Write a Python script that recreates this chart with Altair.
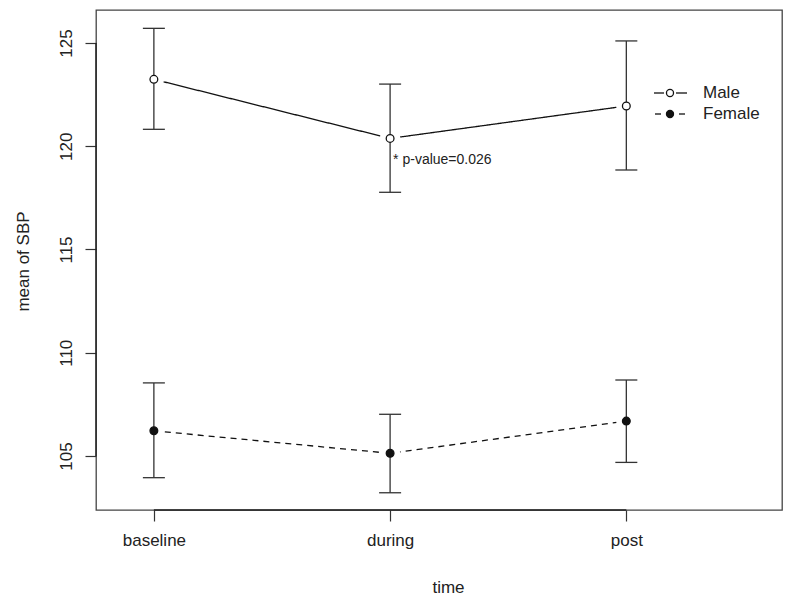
import json
import altair as alt
import pandas as pd

# ---- data ----
times = ["baseline", "during", "post"]
male_mean = [123.24, 120.38, 121.95]
male_lo = [120.82, 117.77, 118.85]
male_hi = [125.71, 123.01, 125.10]
female_mean = [106.22, 105.13, 106.69]
female_lo = [103.95, 103.22, 104.69]
female_hi = [108.54, 107.02, 108.68]
sexes = ["Male", "Female"]
y_ticks = [105, 110, 115, 120, 125]
annot_text = "* p-value=0.026"
annot_y = 119.35

rows = []
for sex, m, lo, hi in [("Male", male_mean, male_lo, male_hi),
                       ("Female", female_mean, female_lo, female_hi)]:
    for i, t in enumerate(times):
        rows.append({"sex": sex, "time": t, "idx": i + 1,
                     "mean": m[i], "lo": lo[i], "hi": hi[i]})
df = pd.DataFrame(rows)

FONT = "Liberation Sans"
INK = "#111111"
W, H = 686, 500

xscale = alt.Scale(domain=[0.755, 3.659], nice=False, zero=False)
yscale = alt.Scale(domain=[102.385, 126.598], nice=False, zero=False)

label_expr = f"{json.dumps(times)}[datum.value - 1]"

xaxis = alt.Axis(values=[1, 2, 3], labelExpr=label_expr, title="time",
                 grid=False, domain=False, tickSize=11, tickColor="#333",
                 tickWidth=1.2, labelFont=FONT, labelFontSize=17,
                 labelColor="#222", labelPadding=11, titleFont=FONT,
                 titleFontSize=17, titleFontWeight="normal", titleColor="#222",
                 titleX=352, titleY=77, titleBaseline="middle",
                 titleAlign="center")
yaxis = alt.Axis(values=y_ticks, title="mean of SBP", grid=False, domain=False,
                 tickSize=11, tickColor="#333", tickWidth=1.2, labelFont=FONT,
                 labelFontSize=17, labelColor="#222", labelAngle=270,
                 labelAlign="center", labelBaseline="bottom", labelPadding=10,
                 titleFont=FONT, titleFontSize=17, titleFontWeight="normal",
                 titleColor="#222", titleAngle=270, titleX=-73, titleY=251,
                 titleBaseline="middle", titleAlign="center")

base = alt.Chart(df)
X = alt.X("idx:Q", scale=xscale, axis=xaxis)
Y = alt.Y("mean:Q", scale=yscale, axis=yaxis)

lines = base.mark_line(color=INK, strokeWidth=1.3).encode(
    x=X, y=Y, detail="sex:N",
    strokeDash=alt.StrokeDash("sex:N", scale=alt.Scale(domain=sexes, range=[[1, 0], [6, 5]]),
                              legend=None))

knock = base.mark_point(shape="circle", filled=True, color="white", size=420,
                        opacity=1).encode(x="idx:Q", y="mean:Q")

bars = base.mark_rule(color="#333", strokeWidth=1.3).encode(
    x="idx:Q", y="lo:Q", y2="hi:Q")
cap_lo = base.mark_tick(orient="horizontal", size=22, thickness=1.3,
                        color="#333", opacity=1).encode(x="idx:Q", y="lo:Q")
cap_hi = base.mark_tick(orient="horizontal", size=22, thickness=1.3,
                        color="#333", opacity=1).encode(x="idx:Q", y="hi:Q")

pts = base.mark_point(shape="circle", filled=True, stroke=INK, strokeWidth=1.3,
                      size=60, opacity=1).encode(
    x="idx:Q", y="mean:Q",
    fill=alt.Fill("sex:N", scale=alt.Scale(domain=sexes, range=["white", INK]),
                  legend=None))

annot_df = pd.DataFrame({"idx": [2], "y": [annot_y], "label": [annot_text]})
annot = alt.Chart(annot_df).mark_text(align="left", baseline="middle", dx=3,
                                      font=FONT, fontSize=14, color="#222").encode(
    x="idx:Q", y="y:Q", text="label:N")

# R-style axis lines spanning the tick range
axis_df = pd.DataFrame({"x1": [1], "x2": [len(times)],
                        "y1": [y_ticks[0]], "y2": [y_ticks[-1]]})
xline = alt.Chart(axis_df).mark_rule(color="#222", strokeWidth=1.4).encode(
    x="x1:Q", x2="x2:Q", y=alt.value(H))
yline = alt.Chart(axis_df).mark_rule(color="#222", strokeWidth=1.4).encode(
    y="y1:Q", y2="y2:Q", x=alt.value(0))

# legend (drawn manually, R style)
leg_layers = []
for k, sex in enumerate(sexes):
    yy = 83 + 21 * k
    if sex == "Male":
        segs = [(558, 568), (580, 591)]
        fill = "white"
    else:
        segs = [(559, 565), (583, 589)]
        fill = INK
    for a, b in segs:
        leg_layers.append(alt.Chart(axis_df).mark_rule(color=INK, strokeWidth=1.3).encode(
            x=alt.value(a), x2=alt.value(b), y=alt.value(yy)))
    leg_layers.append(alt.Chart(axis_df).mark_point(
        shape="circle", filled=True, fill=fill, stroke=INK, strokeWidth=1.3,
        size=50, opacity=1).encode(x=alt.value(574), y=alt.value(yy)))
    leg_layers.append(alt.Chart(axis_df).mark_text(
        align="left", baseline="middle", font=FONT, fontSize=17,
        color="#222").encode(x=alt.value(607), y=alt.value(yy), text=alt.value(sex)))

chart = alt.layer(lines, knock, bars, cap_lo, cap_hi, pts, annot, xline, yline,
                  *leg_layers).properties(
    width=W, height=H,
    autosize=alt.AutoSizeParams(type="none"),
    padding={"left": 88, "top": 2, "right": 2, "bottom": 87},
    background="white",
).configure_view(stroke="#444", strokeWidth=1.3)

chart.save("out.html", embed_options={"renderer": "svg", "actions": False})
